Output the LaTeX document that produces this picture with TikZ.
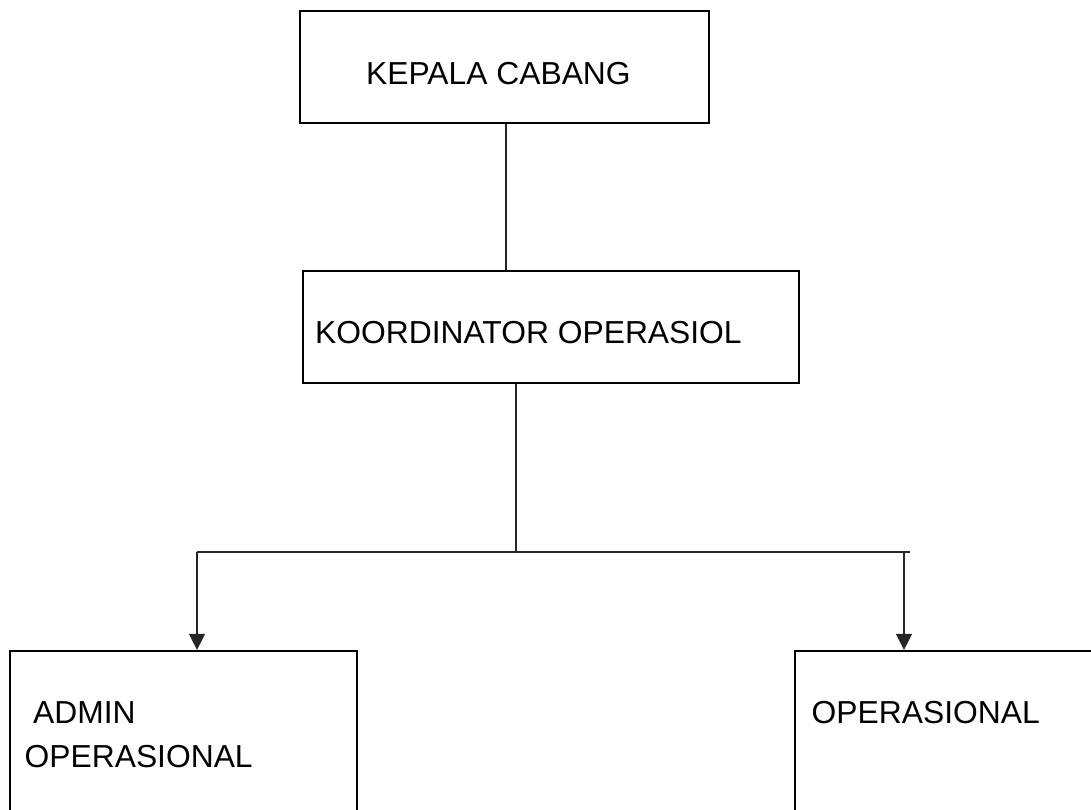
\documentclass[tikz,border=0pt]{standalone}
\usepackage{fontspec}
\setmainfont{Liberation Sans}
\usetikzlibrary{arrows.meta}
\begin{document}
\begin{tikzpicture}[x=1pt,y=-1pt,
  box/.style={draw=black,line width=2.2pt,rectangle,inner sep=0pt},
  lbl/.style={anchor=base west,inner sep=0pt,font=\fontsize{31.8}{38}\selectfont},
  conn/.style={draw=black!85,line width=1.1pt},
  arr/.style={conn,-{Triangle[length=16pt,width=16pt]}}]
\useasboundingbox (0,0) rectangle (1091,810);
\clip (0,0) rectangle (1091,810);
\fill[white] (0,0) rectangle (1091,810);
% boxes
\node[box,minimum width=409pt,minimum height=112pt] (kc) at (504.5,67) {};
\node[box,minimum width=496pt,minimum height=112pt] (ko) at (551,327) {};
\node[box,minimum width=347pt,minimum height=300pt] (ad) at (183.5,801) {};
\node[box,minimum width=360pt,minimum height=300pt] (op) at (975,801) {};
% texts
\node[lbl] (tkc) at (366,85) {KEPALA CABANG};
\node[lbl] (tko) at (315,343) {KOORDINATOR OPERASIOL};
\node[lbl] (tad1) at (33,723) {ADMIN};
\node[lbl] (tad2) at (24.5,767) {OPERASIONAL};
\node[lbl] (top) at (811.5,723) {OPERASIONAL};
% connectors
\coordinate (j) at (516,552);
\coordinate (jl) at (197,552);
\coordinate (jr) at (904,552);
\coordinate (je) at (910,552);
\draw[conn] (506,0 |- kc.south) -- (506,0 |- ko.north);
\draw[conn] (516,0 |- ko.south) -- (j);
\draw[conn] (jl) -- (je);
\draw[arr] (jl) -- (jl |- ad.north);
\draw[arr] (jr) -- (jr |- op.north);
\end{tikzpicture}
\end{document}
